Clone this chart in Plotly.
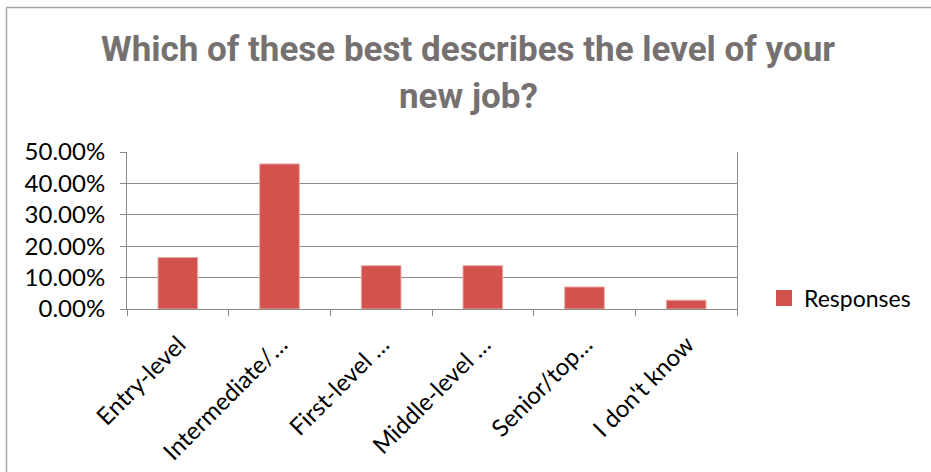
import plotly.graph_objects as go

# Survey responses: level of the new job
categories = ["Entry-level", "Intermediate/…", "First-level …", "Middle-level …", "Senior/top…", "I don't know"]
responses = [0.164, 0.462, 0.138, 0.138, 0.070, 0.028]
series_name = "Responses"
title_lines = ["Which of these best describes the level of your", "new job?"]

W, H = 931, 472
L, R, T, B = 127, 194, 152, 163
pw, ph = W - L - R, H - T - B

def px_x(px):
    return (px - L) / pw

def px_y(py):
    return (H - B - py) / ph

bar_color = "#d2524d"

fig = go.Figure()
fig.add_trace(go.Bar(
    x=categories, y=responses, name=series_name,
    marker=dict(color=bar_color, line=dict(color="#eba9a6", width=1)),
    showlegend=False,
))
# Legend entry with a larger square swatch
fig.add_trace(go.Scatter(
    x=[None], y=[None], mode="markers", name=series_name,
    marker=dict(symbol="square", size=17, color=bar_color), showlegend=True,
))

grid = "#8a8a8a"
fig.update_layout(
    width=W, height=H,
    margin=dict(l=L, r=R, t=T, b=B, autoexpand=False),
    paper_bgcolor="white", plot_bgcolor="white",
    font=dict(family="Lato, 'Open Sans', sans-serif", size=22, color="#000000"),
    bargap=0.61,
    showlegend=True,
    legend=dict(x=px_x(764), y=px_y(298), xanchor="left", yanchor="middle",
                font=dict(size=23), itemwidth=30, bgcolor="rgba(0,0,0,0)"),
    xaxis=dict(showline=True, linecolor=grid, linewidth=1, ticks="outside",
               tickson="boundaries", ticklen=6, tickcolor=grid, tickangle=-45,
               showgrid=False, tickfont=dict(size=24), ticklabelshift=1,
               ticklabelstandoff=11, automargin=False),
    yaxis=dict(range=[0, 0.5], dtick=0.1, tickformat=".2%", showline=True,
               linecolor=grid, linewidth=1, mirror=True, ticks="outside", ticklen=6,
               tickcolor=grid, showgrid=True, gridcolor=grid, gridwidth=1,
               zeroline=False, tickfont=dict(size=24), ticklabelstandoff=10,
               automargin=False),
)

# Title as two centred lines
for line, py in zip(title_lines, [50, 96]):
    fig.add_annotation(
        text="<b>" + line + "</b>", x=px_x(468), y=px_y(py), xref="paper", yref="paper",
        xanchor="center", yanchor="middle", showarrow=False,
        font=dict(family="Roboto, sans-serif", size=35, color="#767171"),
    )

# Chart-area border (left and top edges)
border = "#a6a6a6"
fig.add_shape(type="line", xref="paper", yref="paper", x0=px_x(6.5), x1=px_x(6.5),
              y0=px_y(475), y1=px_y(7.5), line=dict(color=border, width=1.5))
fig.add_shape(type="line", xref="paper", yref="paper", x0=px_x(6.5), x1=px_x(935),
              y0=px_y(7.5), y1=px_y(7.5), line=dict(color=border, width=1.5))

fig.write_html("out.html")
